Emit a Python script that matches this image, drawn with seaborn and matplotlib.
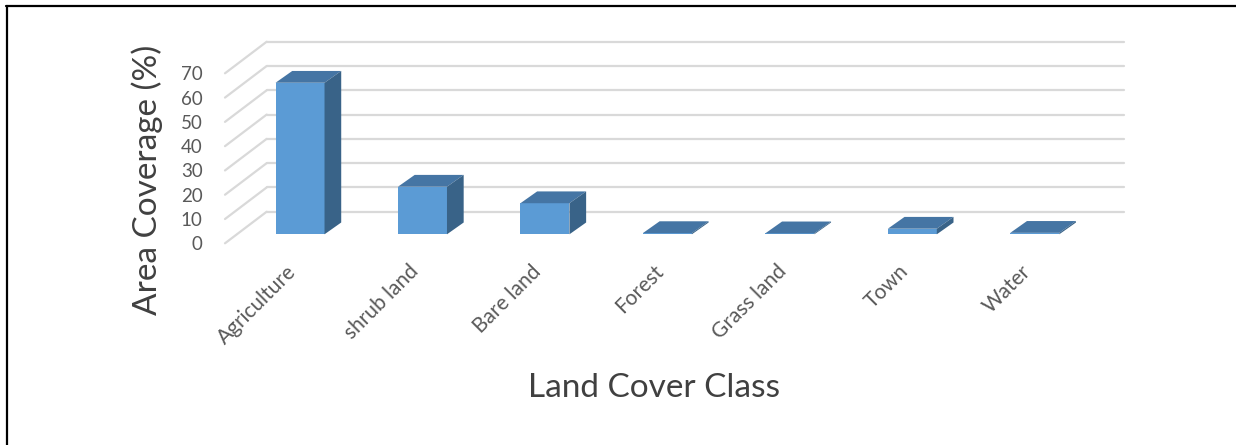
import matplotlib
matplotlib.use("Agg")
import matplotlib.pyplot as plt
from matplotlib.patches import Polygon
from matplotlib.lines import Line2D
import seaborn as sns
import pandas as pd

# Land cover shares (%)
classes = ["Agriculture", "shrub land", "Bare land", "Forest", "Grass land", "Town", "Water"]
coverage = [62.4, 19.6, 12.8, 0.5, 0.4, 2.3, 0.6]
y_ticks = [0, 10, 20, 30, 40, 50, 60, 70]

sns.set_theme(style="white")
plt.rcParams["font.family"] = ["Lato", "DejaVu Sans"]

W, H, DPI = 1236, 445, 100
fig = plt.figure(figsize=(W / DPI, H / DPI), dpi=DPI)
fig.patch.set_facecolor("white")

# Axes = front edge of the floor (pixel geometry of the 3-D box)
ax_left, ax_right = 225.0, 1082.2
ax_top_px, ax_bot_px = 73.3, 243.3
ax = fig.add_axes([ax_left / W, (H - ax_bot_px) / H,
                   (ax_right - ax_left) / W, (ax_bot_px - ax_top_px) / H])
ax.set_xlim(-0.5, len(classes) - 0.5)
ax.set_ylim(0, 70)
ax.patch.set_alpha(0)

px_x = (ax_right - ax_left) / len(classes)   # pixels per category
px_y = (ax_bot_px - ax_top_px) / 70.0         # pixels per percent

def off(dx_px, dy_px):
    return dx_px / px_x, dy_px / px_y

# depth offsets (pixels, y upwards)
wall_dx, wall_dy = off(41.7, 31.6)    # front floor edge -> back wall
bar_dx, bar_dy = off(13.8, 9.0)       # front floor edge -> bar front face
dep_dx, dep_dy = off(16.7, 11.8)      # bar front face -> bar back face

grid_c = "#d9d9d9"
x0, x1 = -0.5, len(classes) - 0.5
for v in y_ticks:
    # side-wall diagonal and back-wall horizontal
    ax.add_line(Line2D([x0, x0 + wall_dx], [v, v + wall_dy], color=grid_c,
                       lw=1.6, clip_on=False, zorder=1))
    ax.add_line(Line2D([x0 + wall_dx, x1 + wall_dx], [v + wall_dy, v + wall_dy],
                       color=grid_c, lw=1.6, clip_on=False, zorder=1))

df = pd.DataFrame({"cls": classes, "pct": coverage})
front_c, top_c, side_c = "#5b9bd5", "#4575a4", "#396388"
sns.barplot(data=df, x="cls", y="pct", width=0.4, color=front_c,
            saturation=1, ax=ax, zorder=3)

for p in list(ax.patches):
    p.set_x(p.get_x() + bar_dx)
    p.set_y(bar_dy)
    p.set_clip_on(False)
    p.set_edgecolor("none")
    bx, bw, bh = p.get_x(), p.get_width(), p.get_height()
    yb, yt = bar_dy, bar_dy + bh
    top = Polygon([(bx, yt), (bx + bw, yt), (bx + bw + dep_dx, yt + dep_dy),
                   (bx + dep_dx, yt + dep_dy)], closed=True, facecolor=top_c,
                  edgecolor="none", clip_on=False, zorder=4)
    side = Polygon([(bx + bw, yb), (bx + bw + dep_dx, yb + dep_dy),
                    (bx + bw + dep_dx, yt + dep_dy), (bx + bw, yt)], closed=True,
                   facecolor=side_c, edgecolor="none", clip_on=False, zorder=4)
    ax.add_patch(top)
    ax.add_patch(side)

for s in ax.spines.values():
    s.set_visible(False)
ax.grid(False)

tick_c = "#595959"
ax.set_yticks(y_ticks)
ax.set_yticklabels([str(t) for t in y_ticks], fontsize=13.5, color=tick_c)
ax.tick_params(axis="y", length=0, pad=16)
ax.set_xticks(range(len(classes)))
ax.set_xticklabels(classes, rotation=45, ha="right", va="top",
                   rotation_mode="anchor", fontsize=15, color=tick_c)
ax.tick_params(axis="x", length=0, pad=13)

ax.set_xlabel("")
ax.set_ylabel("")
fig.text(654 / W, 1 - 388 / H, "Land Cover Class", ha="center", va="center",
         fontsize=24, color="#404040")
fig.text(147 / W, 1 - 180 / H, "Area Coverage (%)", ha="center", va="center",
         rotation=90, fontsize=24, color="#404040")

# outer frame (left and top edges)
fig.add_artist(Line2D([7 / W, 7 / W], [0, 1 - 5.5 / H], color="black", lw=1.6,
                      transform=fig.transFigure))
fig.add_artist(Line2D([6 / W, 1], [1 - 5.5 / H, 1 - 5.5 / H], color="black",
                      lw=1.6, transform=fig.transFigure))

fig.savefig("out.png", dpi=DPI)
